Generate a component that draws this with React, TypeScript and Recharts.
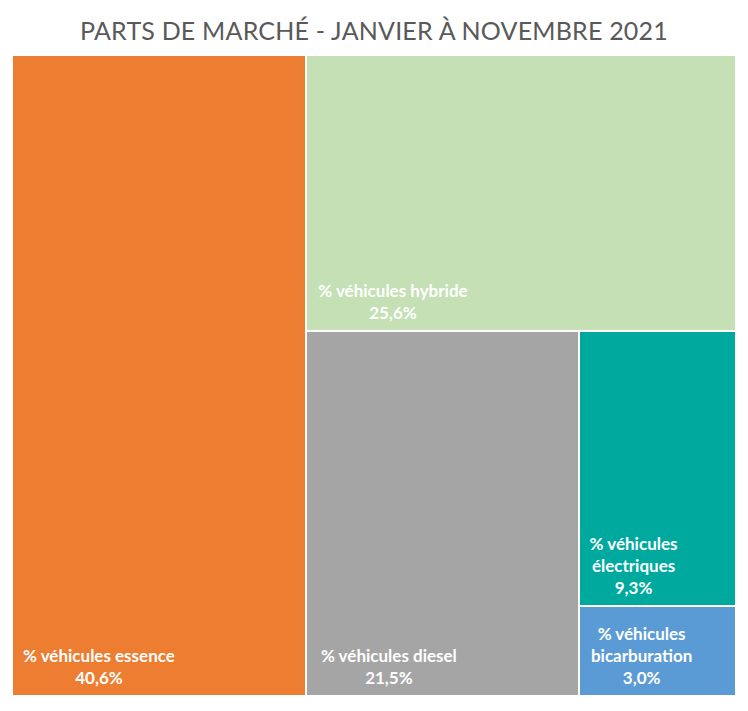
import { Treemap } from 'recharts';

const CATEGORIES = [
  '% véhicules essence',
  '% véhicules hybride',
  '% véhicules diesel',
  '% véhicules électriques',
  '% véhicules bicarburation',
];
const SHARES = [40.6, 25.6, 21.5, 9.3, 3.0];
const COLORS = ['#ED7D31', '#C5E0B4', '#A5A5A5', '#00A99D', '#5B9BD5'];

const data = CATEGORIES.map((name, i) => ({
  name,
  size: SHARES[i],
  color: COLORS[i],
}));

const CHAR_W = 8.1;
const LINE_H = 22;

function wrap(name: string, maxW: number) {
  if (name.length * CHAR_W <= maxW) return [name];
  const words = name.split(' ');
  const first = words.slice(0, 2).join(' ');
  return [first, words.slice(2).join(' ')];
}

function Tile(props: any) {
  const { x, y, width, height, depth, name, size, color } = props;
  if (depth !== 1) return null;
  const lines = [...wrap(name, width - 20), `${String(size.toFixed(1)).replace('.', ',')}%`];
  const blockW = Math.max(...lines.map((l) => l.length * CHAR_W));
  const cx = x + 10 + blockW / 2;
  const bottom = y + height - 12;
  return (
    <g>
      <rect x={x} y={y} width={width} height={height} fill={color} stroke="#fff" strokeWidth={2} />
      {lines.map((l, i) => (
        <text
          key={i}
          x={cx}
          y={bottom - (lines.length - 1 - i) * LINE_H}
          textAnchor="middle"
          fill="#fff"
          fontSize={17}
          fontWeight={700}
          fontFamily="Lato, 'Open Sans', sans-serif"
        >
          {l}
        </text>
      ))}
    </g>
  );
}

export default function App() {
  return (
    <div style={{ width: 732, height: 695, fontFamily: 'Lato, sans-serif' }}>
      <div
        style={{
          textAlign: 'center',
          fontSize: 25,
          color: '#595959',
          height: 47,
          lineHeight: '44px',
          letterSpacing: 0.2,
        }}
      >
        PARTS DE MARCHÉ - JANVIER À NOVEMBRE 2021
      </div>
      <div style={{ marginLeft: 4 }}>
        <Treemap
          width={724}
          height={641}
          data={data}
          dataKey="size"
          nameKey="name"
          aspectRatio={0.3}
          isAnimationActive={false}
          content={<Tile />}
        />
      </div>
    </div>
  );
}
